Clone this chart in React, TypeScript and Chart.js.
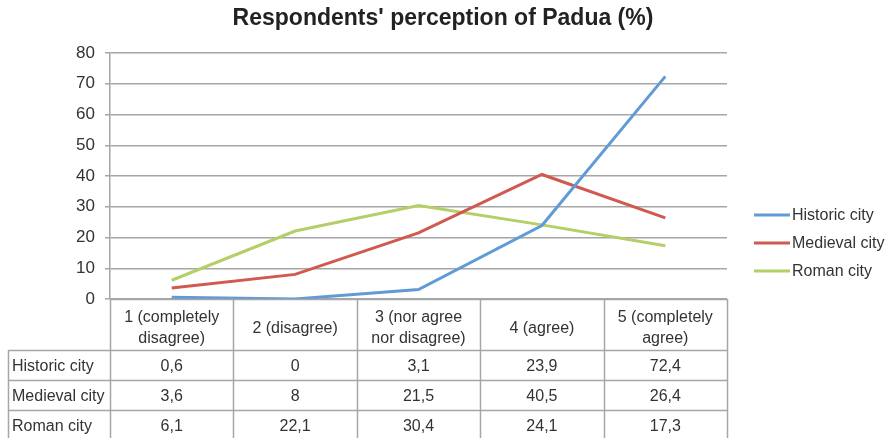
import React, { useEffect, useRef } from "react";
import { Chart, registerables } from "chart.js";

Chart.register(...registerables);

const TITLE = "Respondents' perception of Padua (%)";
const categories: string[][] = [
  ["1 (completely", "disagree)"],
  ["2 (disagree)"],
  ["3 (nor agree", "nor disagree)"],
  ["4 (agree)"],
  ["5 (completely", "agree)"],
];
const seriesNames = ["Historic city", "Medieval city", "Roman city"];
const historic = [0.6, 0, 3.1, 23.9, 72.4];
const medieval = [3.6, 8, 21.5, 40.5, 26.4];
const roman = [6.1, 22.1, 30.4, 24.1, 17.3];
const colors = ["#619BD6", "#D05A50", "#B5CF68"];
const yTicks = [0, 10, 20, 30, 40, 50, 60, 70, 80];

const FONT = "'Liberation Sans', Arial, sans-serif";
const TEXT = "#333333";
const GRID = "#A6A6A6";

const fmt = (v: number) => String(v).replace(".", ",");

const tablePlugin = {
  id: "tablePlugin",
  afterDraw(chart: any) {
    const ctx = chart.ctx as CanvasRenderingContext2D;
    const area = chart.chartArea;
    const n = categories.length;
    const colW = (area.right - area.left) / n;
    const top = area.bottom;
    const headerH = 51;
    const rowH = 30;
    const bottom = chart.height;
    const leftX = 8;
    ctx.save();
    // title
    ctx.fillStyle = "#222222";
    ctx.font = `bold 23px ${FONT}`;
    ctx.textAlign = "center";
    ctx.textBaseline = "middle";
    ctx.fillText(TITLE, 443, 19);

    // grid lines of table
    ctx.strokeStyle = GRID;
    ctx.lineWidth = 1.5;
    ctx.beginPath();
    for (let i = 0; i <= n; i++) {
      const x = Math.round(area.left + i * colW) + 0.5;
      ctx.moveTo(x, top);
      ctx.lineTo(x, bottom);
    }
    ctx.moveTo(leftX + 0.5, top + headerH);
    ctx.lineTo(leftX + 0.5, bottom);
    ctx.moveTo(area.left, top + 0.5);
    ctx.lineTo(area.right, top + 0.5);
    for (let r = 0; r < seriesNames.length; r++) {
      const y = Math.round(top + headerH + r * rowH) + 0.5;
      ctx.moveTo(leftX, y);
      ctx.lineTo(area.right, y);
    }
    ctx.stroke();

    // header text
    ctx.fillStyle = TEXT;
    ctx.font = `16px ${FONT}`;
    ctx.textAlign = "center";
    ctx.textBaseline = "middle";
    const xs = chart.scales.x;
    categories.forEach((lines, i) => {
      const cx = xs.getPixelForValue(i);
      const cy = top + headerH / 2 + 4;
      const lh = 21;
      lines.forEach((l, k) => {
        ctx.fillText(l, cx, cy + (k - (lines.length - 1) / 2) * lh);
      });
    });
    const data = [historic, medieval, roman];
    seriesNames.forEach((name, r) => {
      const cy = top + headerH + r * rowH + rowH / 2 + 2;
      ctx.textAlign = "left";
      ctx.fillText(name, leftX + 4, cy);
      ctx.textAlign = "center";
      data[r].forEach((v, i) => {
        ctx.fillText(fmt(v), xs.getPixelForValue(i), cy);
      });
    });

    // legend
    const ly = [215, 243, 271];
    seriesNames.forEach((name, r) => {
      ctx.strokeStyle = colors[r];
      ctx.lineWidth = 3;
      ctx.beginPath();
      ctx.moveTo(754, ly[r]);
      ctx.lineTo(790, ly[r]);
      ctx.stroke();
      ctx.fillStyle = TEXT;
      ctx.textAlign = "left";
      ctx.fillText(name, 792, ly[r] + 1);
    });
    ctx.restore();
  },
};

export default function App() {
  const ref = useRef<HTMLCanvasElement | null>(null);
  useEffect(() => {
    if (!ref.current) return;
    const chart = new Chart(ref.current, {
      type: "line",
      data: {
        labels: categories.map((c) => c.join(" ")),
        datasets: [historic, medieval, roman].map((d, i) => ({
          label: seriesNames[i],
          data: d,
          borderColor: colors[i],
          backgroundColor: colors[i],
          borderWidth: 3,
          pointRadius: 0,
          tension: 0,
        })),
      },
      options: {
        animation: false,
        responsive: false,
        layout: { padding: { left: 0, right: 159, top: 53, bottom: 139 } },
        plugins: { legend: { display: false }, title: { display: false }, tooltip: { enabled: false } },
        scales: {
          x: {
            display: false,
            offset: true,
          },
          y: {
            min: 0,
            max: 80,
            afterBuildTicks: (scale: any) => {
              scale.ticks = yTicks.map((v) => ({ value: v }));
            },
            afterFit: (scale: any) => {
              scale.width = 110;
            },
            ticks: {
              color: TEXT,
              font: { family: FONT, size: 17 },
              padding: 10,
            },
            grid: { color: GRID, lineWidth: 1.5, tickLength: 5 },
            border: { color: GRID, width: 1.5 },
          },
        },
      },
      plugins: [tablePlugin],
    });
    return () => chart.destroy();
  }, []);
  return (
    <div style={{ position: "fixed", left: 0, top: 0, width: 886, height: 438, background: "#fff" }}>
      <canvas ref={ref} width={886} height={438} style={{ width: 886, height: 438 }} />
    </div>
  );
}
